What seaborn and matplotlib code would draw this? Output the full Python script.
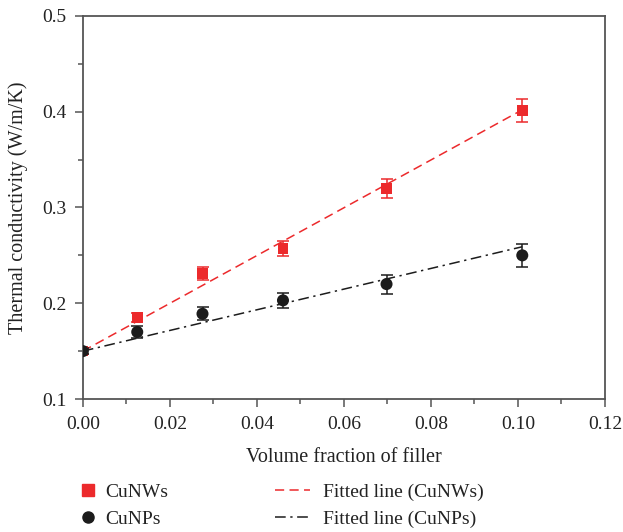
import numpy as np
import pandas as pd
import seaborn as sns
import matplotlib.pyplot as plt
from matplotlib.lines import Line2D

# measured data
frac = [0.0, 0.0125, 0.0275, 0.046, 0.0698, 0.101]
k_nw = [0.150, 0.185, 0.231, 0.257, 0.320, 0.401]
err_nw = [0.003, 0.005, 0.007, 0.008, 0.010, 0.012]
k_np = [0.150, 0.170, 0.189, 0.203, 0.220, 0.250]
err_np = [0.003, 0.006, 0.007, 0.008, 0.010, 0.012]

# fitted line end points
fit_x = [0.0, 0.101]
fit_nw = [0.150, 0.402]
fit_np = [0.150, 0.259]

red = '#ec2a2c'
black = '#1c1c1c'

sns.set_theme(style='ticks')
plt.rcParams['font.family'] = ['Liberation Serif', 'DejaVu Serif']
plt.rcParams['font.size'] = 14

df = pd.DataFrame({'x': frac * 2,
                   'k': k_nw + k_np,
                   'err': err_nw + err_np,
                   'sample': ['CuNWs'] * len(frac) + ['CuNPs'] * len(frac)})
fits = pd.DataFrame({'x': fit_x * 2,
                     'k': fit_nw + fit_np,
                     'fit': ['Fitted line (CuNWs)'] * 2 + ['Fitted line (CuNPs)'] * 2})

fig = plt.figure(figsize=(6.23, 5.32), dpi=100)
ax = fig.add_axes([0.133, 0.25, 0.838, 0.72])

sns.lineplot(data=fits[fits['fit'] == 'Fitted line (CuNWs)'], x='x', y='k', ax=ax,
             color=red, lw=1.1, legend=False, zorder=2)
ax.lines[-1].set_dashes([6, 3.5])
sns.lineplot(data=fits[fits['fit'] == 'Fitted line (CuNPs)'], x='x', y='k', ax=ax,
             color=black, lw=1.1, legend=False, zorder=2)
ax.lines[-1].set_dashes([7, 3, 1.5, 3])

for name, col, mk, sz in [('CuNWs', red, 's', 60), ('CuNPs', black, 'o', 75)]:
    sub = df[df['sample'] == name]
    ax.errorbar(sub['x'], sub['k'], yerr=sub['err'], fmt='none', ecolor=col,
                elinewidth=1.1, capsize=4, capthick=1.1, zorder=3)
    sns.scatterplot(data=sub, x='x', y='k', ax=ax, color=col, marker=mk, s=sz,
                    edgecolor='none', legend=False, zorder=4)

ax.set_xlim(0, 0.12)
ax.set_ylim(0.1, 0.5)
ax.set_xticks(np.arange(0, 0.121, 0.02))
ax.set_xticks(np.arange(0.01, 0.12, 0.02), minor=True)
ax.set_yticks([0.1, 0.2, 0.3, 0.4, 0.5])
ax.set_yticks([0.15, 0.25, 0.35, 0.45], minor=True)
ax.set_xticklabels(['%.2f' % v for v in np.arange(0, 0.121, 0.02)])
ax.set_yticklabels(['0.1', '0.2', '0.3', '0.4', '0.5'])
ax.tick_params(which='major', direction='out', length=6, width=1.1, color='#555555',
               labelsize=14, labelcolor='#222222', pad=6)
ax.tick_params(which='minor', direction='out', length=3.5, width=1.1, color='#555555')
for s in ax.spines.values():
    s.set_color('#555555')
    s.set_linewidth(1.3)

ax.set_xlabel('Volume fraction of filler', fontsize=14.5, color='#222222', labelpad=11)
ax.set_ylabel('Thermal conductivity (W/m/K)', fontsize=14.5, color='#222222', labelpad=10)

# legend: markers column and fitted lines column
mk_handles = [Line2D([], [], ls='none', marker='s', color=red, ms=8),
              Line2D([], [], ls='none', marker='o', color=black, ms=8)]
ln_handles = [Line2D([], [], color=red, lw=1.1, dashes=[6, 3.5]),
              Line2D([], [], color=black, lw=1.1, dashes=[7, 3, 1.5, 3])]
fig.legend(mk_handles, ['CuNWs', 'CuNPs'], frameon=False, loc='upper left',
           bbox_to_anchor=(0.125, 0.092), borderpad=0, borderaxespad=0,
           fontsize=14, handlelength=1.0, handletextpad=0.4,
           labelspacing=0.5, labelcolor='#222222')
fig.legend(ln_handles, ['Fitted line (CuNWs)', 'Fitted line (CuNPs)'], frameon=False,
           loc='upper left', bbox_to_anchor=(0.441, 0.092), borderpad=0,
           borderaxespad=0, fontsize=14, handlelength=1.8, handletextpad=0.7,
           labelspacing=0.5, labelcolor='#222222')

fig.savefig('out.png', dpi=100)
